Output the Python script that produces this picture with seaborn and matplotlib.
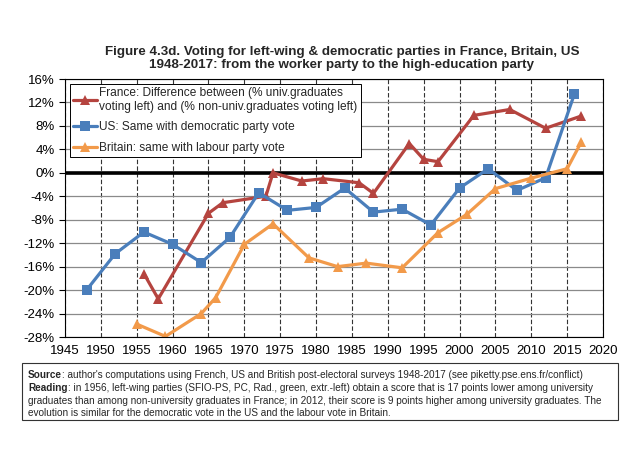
import matplotlib
matplotlib.use("Agg")
import matplotlib.pyplot as plt
from matplotlib.patches import Rectangle
from matplotlib.ticker import FuncFormatter, MultipleLocator
import pandas as pd
import seaborn as sns

# data (percentage points)
france_years = [1956, 1958, 1965, 1967, 1973, 1974, 1978, 1981, 1986, 1988,
                1993, 1995, 1997, 2002, 2007, 2012, 2017]
france_vals = [-17.2, -21.5, -6.9, -5.1, -4.0, 0.0, -1.4, -1.0, -1.7, -3.5,
               5.0, 2.3, 1.9, 9.8, 10.8, 7.6, 9.7]

us_years = [1948, 1952, 1956, 1960, 1964, 1968, 1972, 1976, 1980, 1984,
            1988, 1992, 1996, 2000, 2004, 2008, 2012, 2016]
us_vals = [-20.0, -13.8, -10.1, -12.2, -15.3, -11.0, -3.4, -6.4, -5.9, -2.6,
           -6.7, -6.2, -8.9, -2.6, 0.7, -3.0, -0.85, 13.4]

britain_years = [1955, 1959, 1964, 1966, 1970, 1974, 1979, 1983, 1987, 1992,
                 1997, 2001, 2005, 2010, 2015, 2017]
britain_vals = [-25.8, -27.9, -24.0, -21.3, -12.2, -8.7, -14.5, -16.0, -15.4,
                -16.2, -10.2, -7.1, -2.7, -0.9, 0.7, 5.3]

lab_fr = ("France: Difference between (% univ.graduates\n"
          "voting left) and (% non-univ.graduates voting left)")
lab_us = "US: Same with democratic party vote"
lab_uk = "Britain: same with labour party vote"

df = pd.concat([
    pd.DataFrame({"year": france_years, "value": france_vals, "series": lab_fr}),
    pd.DataFrame({"year": us_years, "value": us_vals, "series": lab_us}),
    pd.DataFrame({"year": britain_years, "value": britain_vals, "series": lab_uk}),
])

sns.set_style("white")
plt.rcParams["font.family"] = ["Liberation Sans", "DejaVu Sans"]

fig = plt.figure(figsize=(6.4, 4.5), dpi=100)
ax = fig.add_axes([65 / 640, 1 - 337 / 450, 538 / 640, 258 / 450])

palette = {lab_fr: "#B5443F", lab_us: "#4A7EBB", lab_uk: "#F29A4A"}
markers = {lab_fr: "^", lab_us: "s", lab_uk: "^"}

# grid first so lines sit on top
ax.set_axisbelow(True)
ax.yaxis.grid(True, color="#8a8a8a", lw=0.9)
ax.xaxis.grid(True, color="#333333", lw=0.8, ls=(0, (4, 2)))
ax.axhline(0, color="black", lw=2.6, zorder=1.5)

sns.lineplot(
    data=df, x="year", y="value", hue="series", style="series",
    hue_order=[lab_fr, lab_us, lab_uk], style_order=[lab_fr, lab_us, lab_uk],
    palette=palette, markers=markers, dashes=False, sort=False,
    lw=2.3, markersize=7.5, markeredgewidth=0, ax=ax,
)

ax.set_xlim(1945, 2020)
ax.set_ylim(-28, 16)
ax.xaxis.set_major_locator(MultipleLocator(5))
ax.yaxis.set_major_locator(MultipleLocator(4))
ax.yaxis.set_major_formatter(FuncFormatter(lambda v, _: f"{v:.0f}%"))
ax.set_xlabel("")
ax.set_ylabel("")
ax.tick_params(axis="both", labelsize=9.5, colors="black")
ax.tick_params(axis="y", length=4, width=0.8, direction="out", left=True)
ax.tick_params(axis="x", length=0, pad=6)
for s in ax.spines.values():
    s.set_color("black")
    s.set_linewidth(0.8)

leg = ax.legend(
    loc="upper left", bbox_to_anchor=(0.009, 0.982), borderaxespad=0,
    fontsize=8.6, frameon=True, fancybox=False, framealpha=1,
    handlelength=2.0, handletextpad=0.15, labelspacing=0.7,
    borderpad=0.3,
)
leg.get_frame().set_edgecolor("black")
leg.get_frame().set_linewidth(0.7)

fig.text(0.534, 1 - 58.5 / 450,
         "Figure 4.3d. Voting for left-wing & democratic parties in France, Britain, US\n"
         "1948-2017: from the worker party to the high-education party",
         ha="center", va="center", fontsize=9.6, fontweight="bold", linespacing=1.12)

# caption box
fig.patches.append(Rectangle((22 / 640, 1 - 420 / 450), 596 / 640, 57 / 450,
                             transform=fig.transFigure, fill=False,
                             edgecolor="#333333", lw=0.8))

cap_fs = 7.2
x0 = 28 / 640
t1 = fig.text(x0, 1 - 375 / 450, "Source", fontsize=cap_fs, fontweight="bold", va="center")
ax.annotate(": author's computations using French, US and British post-electoral "
            "surveys 1948-2017 (see piketty.pse.ens.fr/conflict)",
            xy=(1, 0), xycoords=t1, va="bottom", fontsize=cap_fs,
            annotation_clip=False)
t2 = fig.text(x0, 1 - 388 / 450, "Reading", fontsize=cap_fs, fontweight="bold", va="center")
ax.annotate(": in 1956, left-wing parties (SFIO-PS, PC, Rad., green, extr.-left) "
            "obtain a score that is 17 points lower among university",
            xy=(1, 0), xycoords=t2, va="bottom", fontsize=cap_fs,
            annotation_clip=False)
fig.text(x0, 1 - 401 / 450,
         "graduates than among non-university graduates in France; in 2012, their "
         "score is 9 points higher among university graduates. The",
         fontsize=cap_fs, va="center")
fig.text(x0, 1 - 413 / 450,
         "evolution is similar for the democratic vote in the US and the labour "
         "vote in Britain.",
         fontsize=cap_fs, va="center")

fig.savefig("out.png", dpi=100)
